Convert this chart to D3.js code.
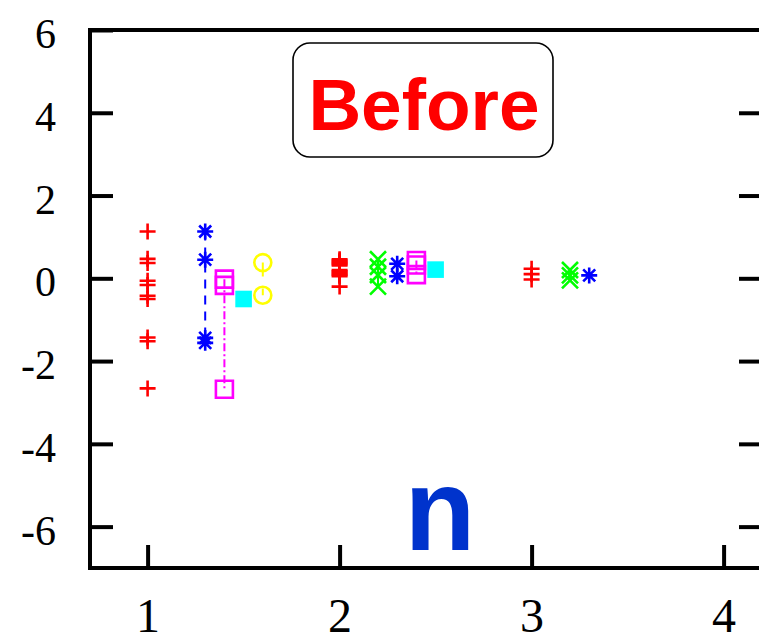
<!DOCTYPE html>
<html>
<head>
<meta charset="utf-8">
<script src="https://cdn.jsdelivr.net/npm/d3@7"></script>
<style>
  body { margin: 0; background: #fff; }
  svg { display: block; }
</style>
</head>
<body>
<svg id="chart" width="759" height="642"></svg>
<script>
window.addEventListener('load', makeChart);

// tick labels
var xTicks = [1, 2, 3, 4];
var yTicks = [-6, -4, -2, 0, 2, 4, 6];

// series, [x, value]
var redPlus = [
    [1, 1.13], [1, 0.47], [1, 0.37], [1, -0.06], [1, -0.16], [1, -0.42], [1, -0.50],
    [1, -1.43], [1, -1.52], [1, -2.66],
    [2, 0.46], [2, 0.43], [2, 0.40], [2, 0.37], [2, 0.34], [2, 0.31],
    [2, 0.20], [2, 0.17], [2, 0.14], [2, 0.11], [2, 0.08], [2, 0.05], [2, -0.20],
    [3, 0.23], [3, 0.10], [3, -0.03]
];
var greenCross = [
    [2.2, 0.46], [2.2, 0.28], [2.2, 0.08], [2.2, -0.20],
    [3.2, 0.20], [3.2, 0.07], [3.2, -0.05]
];
var blueStar = [
    [1.3, 1.13], [1.3, 0.45], [1.3, -1.44], [1.3, -1.56],
    [2.3, 0.35], [2.3, 0.05],
    [3.3, 0.07]
];
var magentaBox = [
    [1.4, -0.02], [1.4, -0.17], [1.4, -2.68],
    [2.4, 0.43], [2.4, 0.32], [2.4, 0.09]
];
var cyanBox = [
    [1.5, -0.50],
    [2.5, 0.21]
];
var yellowRing = [
    [1.6, 0.38], [1.6, -0.41]
];

// marker shapes for d3.symbol, size = half width
var plusType = {draw: function(c, h) { c.moveTo(-h, 0); c.lineTo(h, 0); c.moveTo(0, -h); c.lineTo(0, h); }};
var timesType = {draw: function(c, h) { c.moveTo(-h, -h); c.lineTo(h, h); c.moveTo(-h, h); c.lineTo(h, -h); }};
var starType = {draw: function(c, h) { plusType.draw(c, h); timesType.draw(c, h * 0.75); }};
var boxType = {draw: function(c, h) { c.rect(-h, -h, 2 * h, 2 * h); }};
var ringType = {draw: function(c, h) { c.moveTo(h, 0); c.arc(0, 0, h, 0, 2 * Math.PI); }};

var series = [
    {data: redPlus, color: '#ff0000', type: plusType, size: 8, fill: 'none', dash: null},
    {data: greenCross, color: '#00ff00', type: timesType, size: 8, fill: 'none', dash: 'solid'},
    {data: blueStar, color: '#0000ff', type: starType, size: 8, fill: 'none', dash: '9,7'},
    {data: magentaBox, color: '#ff00ff', type: boxType, size: 8.5, fill: 'none', dash: '8,3,2,3'},
    {data: cyanBox, color: '#00ffff', type: boxType, size: 8.3, fill: '#00ffff', dash: null},
    {data: yellowRing, color: '#ffff00', type: ringType, size: 8.5, fill: 'none', dash: '14,12'}
];

function makeChart() {

    var svg = d3.select('#chart');

    var x = d3.scaleLinear().domain([0.7, 4.2]).range([90, 762]);
    var y = d3.scaleLinear().domain([-7, 6]).range([568, 30]);

    //Axes
    var left = svg.append('g').attr('transform', 'translate(90,0)')
        .call(d3.axisLeft(y).tickValues(yTicks).tickSize(-23).tickPadding(34)
            .tickFormat(d => String(d)));
    var right = svg.append('g').attr('transform', 'translate(762,0)')
        .call(d3.axisRight(y).tickValues(yTicks.slice(0, 6)).tickSize(-23).tickFormat(''));
    var bottom = svg.append('g').attr('transform', 'translate(0,568)')
        .call(d3.axisBottom(x).tickValues(xTicks).tickSize(-23).tickPadding(30)
            .tickFormat(d => String(d)));

    [left, right, bottom].forEach(function(g) {
        g.select('.domain').remove();
        g.selectAll('line').attr('stroke', '#000').attr('stroke-width', 4);
    });
    left.selectAll('text').attr('font-family', '"Liberation Serif", "Times New Roman", serif')
        .attr('font-size', 42).attr('fill', '#000').attr('dy', '0.42em');
    bottom.selectAll('text').attr('font-family', '"Liberation Serif", "Times New Roman", serif')
        .attr('font-size', 48).attr('fill', '#000');

    //Frame
    svg.append('path')
        .attr('d', 'M' + x(0.7) + ',' + y(6) + 'H' + x(4.2) + 'V' + y(-7) + 'H' + x(0.7) + 'Z')
        .attr('fill', 'none').attr('stroke', '#000').attr('stroke-width', 4);

    //Connecting lines, one per group of equal x
    var lineGen = d3.line().x(d => x(d[0])).y(d => y(d[1]));
    var linesG = svg.append('g').attr('class', 'lines');
    series.forEach(function(s) {
        if (!s.dash) return;
        d3.groups(s.data, d => d[0]).forEach(function(grp) {
            if (grp[1].length < 2) return;
            linesG.append('path')
                .attr('d', lineGen(grp[1]))
                .attr('fill', 'none')
                .attr('stroke', s.color)
                .attr('stroke-width', 2)
                .attr('stroke-dasharray', s.dash === 'solid' ? null : s.dash);
        });
    });

    //Markers
    var marksG = svg.append('g').attr('class', 'marks');
    series.forEach(function(s) {
        marksG.append('g').selectAll('path')
            .data(s.data).enter().append('path')
            .attr('transform', d => 'translate(' + x(d[0]) + ',' + y(d[1]) + ')')
            .attr('d', d3.symbol().type(s.type).size(s.size))
            .attr('fill', s.fill)
            .attr('stroke', s.fill === 'none' ? s.color : 'none')
            .attr('stroke-width', 2.6);
    });

    //Label box
    svg.append('rect')
        .attr('x', 293).attr('y', 43).attr('width', 260).attr('height', 114)
        .attr('rx', 17).attr('fill', '#fff').attr('stroke', '#000').attr('stroke-width', 1.6);
    svg.append('text')
        .attr('x', 424).attr('y', 130)
        .attr('text-anchor', 'middle')
        .attr('font-family', '"Liberation Sans", Arial, sans-serif')
        .attr('font-weight', 'bold')
        .attr('font-size', 73)
        .attr('fill', '#ff0000')
        .text('Before');

    svg.append('text')
        .attr('x', 440).attr('y', 550)
        .attr('text-anchor', 'middle')
        .attr('font-family', '"Liberation Sans", Arial, sans-serif')
        .attr('font-weight', 'bold')
        .attr('font-size', 116)
        .attr('fill', '#0033cc')
        .text('n');
}
</script>
</body>
</html>
